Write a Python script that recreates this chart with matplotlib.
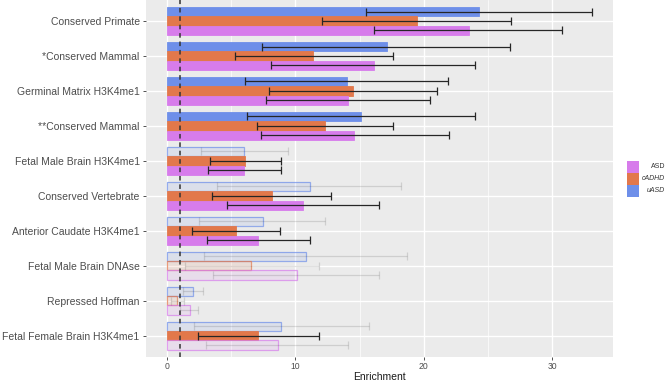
import numpy as np
import matplotlib.pyplot as plt
from matplotlib.patches import Rectangle

plt.rcParams["font.family"] = ["Liberation Sans", "DejaVu Sans"]

categories = ["Conserved Primate", "*Conserved Mammal", "Germinal Matrix H3K4me1",
              "**Conserved Mammal", "Fetal Male Brain H3K4me1", "Conserved Vertebrate",
              "Anterior Caudate H3K4me1", "Fetal Male Brain DNAse", "Repressed Hoffman",
              "Fetal Female Brain H3K4me1"]

uasd = [24.3, 17.1, 14.0, 15.1, 6.0, 11.1, 7.5, 10.8, 2.0, 8.9]
uasd_lo = [15.5, 7.4, 6.1, 6.2, 2.6, 3.9, 2.5, 2.9, 1.2, 2.1]
uasd_hi = [33.1, 26.7, 21.9, 24.0, 9.4, 18.2, 12.3, 18.7, 2.8, 15.7]
uasd_sig = [1, 1, 1, 1, 0, 0, 0, 0, 0, 0]

cadhd = [19.5, 11.4, 14.5, 12.3, 6.1, 8.2, 5.4, 6.5, 0.75, 7.1]
cadhd_lo = [12.1, 5.3, 7.9, 7.0, 3.3, 3.5, 1.9, 1.4, 0.3, 2.4]
cadhd_hi = [26.8, 17.6, 21.0, 17.6, 8.9, 12.8, 8.8, 11.8, 1.3, 11.8]
cadhd_sig = [1, 1, 1, 1, 1, 1, 1, 0, 0, 1]

asd = [23.5, 16.1, 14.1, 14.6, 6.0, 10.6, 7.1, 10.1, 1.8, 8.6]
asd_lo = [16.1, 8.1, 7.7, 7.3, 3.2, 4.7, 3.1, 3.6, 1.0, 3.0]
asd_hi = [30.8, 24.0, 20.5, 22.0, 8.9, 16.5, 11.1, 16.5, 2.4, 14.1]
asd_sig = [1, 1, 1, 1, 1, 1, 1, 0, 0, 0]

groups = ["uASD", "cADHD", "ASD"]
colors = {"uASD": "#6E8FE9", "cADHD": "#E2784B", "ASD": "#D77CEB"}
series = {
    "uASD": (uasd, uasd_lo, uasd_hi, uasd_sig),
    "cADHD": (cadhd, cadhd_lo, cadhd_hi, cadhd_sig),
    "ASD": (asd, asd_lo, asd_hi, asd_sig),
}

fig = plt.figure(figsize=(6.69, 3.82), dpi=100)
ax = fig.add_axes([146 / 669, 1 - 356.7 / 382, (613 - 146) / 669, 356.7 / 382])
ax.set_facecolor("#EBEBEB")

yc = np.arange(len(categories))
h = 0.27
offsets = {"uASD": -h, "cADHD": 0.0, "ASD": h}

for g in groups:
    vals, lo, hi, sig = series[g]
    col = colors[g]
    for i in range(len(categories)):
        y = yc[i] + offsets[g]
        if sig[i]:
            ax.barh(y, vals[i], height=h, color=col, edgecolor=col, linewidth=0.6, zorder=3)
            ax.errorbar(vals[i], y, xerr=[[vals[i] - lo[i]], [hi[i] - vals[i]]], fmt="none",
                        ecolor="#262626", elinewidth=0.9, capsize=2.8, capthick=0.9, zorder=4)
        else:
            ax.barh(y, vals[i], height=h, color=col, alpha=0.12, linewidth=0, zorder=3)
            ax.barh(y, vals[i], height=h, fill=False, edgecolor=col, alpha=0.7,
                    linewidth=0.9, zorder=3)
            ax.errorbar(vals[i], y, xerr=[[vals[i] - lo[i]], [hi[i] - vals[i]]], fmt="none",
                        ecolor="#000000", alpha=0.12, elinewidth=0.9, capsize=2.8,
                        capthick=0.9, zorder=4)

ax.axvline(1, color="#333333", linestyle=(0, (3, 2.5)), linewidth=1.1, zorder=5)

ax.set_xlim(-1.65, 34.75)
ax.set_ylim(len(categories) - 0.4, -0.6)
ax.set_xticks([0, 10, 20, 30])
ax.set_xticks([5, 15, 25], minor=True)
ax.set_yticks(yc)
ax.set_yticklabels(categories)
ax.grid(which="major", color="white", linewidth=1.0, zorder=0)
ax.grid(which="minor", axis="x", color="white", linewidth=0.5, zorder=0)
ax.set_axisbelow(True)
for s in ax.spines.values():
    s.set_visible(False)
ax.tick_params(axis="y", which="major", length=2.5, width=0.6, color="#333333",
               labelsize=7.5, labelcolor="#4D4D4D", pad=2)
ax.tick_params(axis="x", which="major", length=2.5, width=0.6, color="#333333",
               labelsize=6.2, labelcolor="#4D4D4D", pad=1.5)
ax.tick_params(axis="x", which="minor", length=0)
ax.set_xlabel("Enrichment", fontsize=7.5, color="#1A1A1A", labelpad=0.5)

# legend (ASD, cADHD, uASD from top)
leg_items = [("ASD", "normal"), ("cADHD", "italic"), ("uASD", "italic")]
kx, kw, kh = 626.7, 12.5, 12.1
ky0 = 160.7
for j, (name, style) in enumerate(leg_items):
    top = ky0 + j * kh
    fig.patches.append(Rectangle((kx / 669, 1 - (top + kh) / 382), kw / 669, kh / 382,
                                 transform=fig.transFigure, facecolor=colors[name],
                                 edgecolor="none"))
    fig.text(665 / 669, 1 - (top + kh / 2) / 382, name, ha="right", va="center",
             fontsize=5.0, style=style, color="#333333")

fig.savefig("out.png", dpi=100)
